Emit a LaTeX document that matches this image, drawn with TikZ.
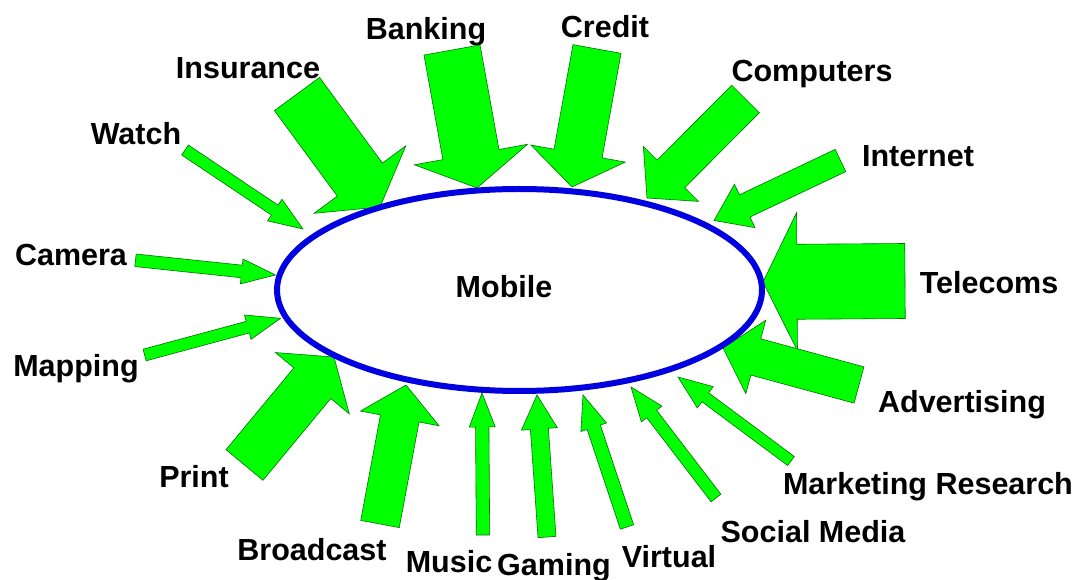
\documentclass[tikz,border=0pt]{standalone}
\usepackage{fontspec}
\setmainfont{Liberation Sans}
\usetikzlibrary{calc,shapes.geometric}

\definecolor{feedgreen}{RGB}{0,255,0}
\definecolor{ringblue}{RGB}{0,0,225}
\tikzset{
  feed/.style={fill=feedgreen,draw=black!55!green,line width=0.6pt,line join=miter},
  topic/.style={anchor=base,inner sep=0pt,font=\fontsize{30.5}{36}\selectfont\bfseries},
}
% block arrow: tail, tip, shaft half width, head half width
\newcommand{\blockarrow}[4]{%
  \coordinate (hb) at ($(#2)!34pt!(#1)$);
  \filldraw[feed] ($(#1)!#3pt!90:(#2)$) -- ($(hb)!#3pt!90:(#2)$) -- ($(hb)!#4pt!90:(#2)$)
    -- (#2) -- ($(hb)!#4pt!-90:(#2)$) -- ($(hb)!#3pt!-90:(#2)$) -- ($(#1)!#3pt!-90:(#2)$) -- cycle;}

\begin{document}
\begin{tikzpicture}[x=1pt,y=-1pt]
\useasboundingbox (0,0) rectangle (1080,580);

% labels
\node[topic] (banking) at (426,40) {Banking};
\node[topic] (credit) at (605,38) {Credit};
\node[topic] (insurance) at (248,79) {Insurance};
\node[topic] (computers) at (812,82) {Computers};
\node[topic] (watch) at (136,145) {Watch};
\node[topic] (internet) at (918,167) {Internet};
\node[topic] (camera) at (71,266) {Camera};
\node[topic] (telecoms) at (989,294) {Telecoms};
\node[topic] (mapping) at (76,377) {Mapping};
\node[topic] (advertising) at (962,412) {Advertising};
\node[topic] (print) at (194,487) {Print};
\node[topic] (marketing) at (928,494) {Marketing Research};
\node[topic] (social) at (813,542) {Social Media};
\node[topic] (broadcast) at (312,560) {Broadcast};
\node[topic] (music) at (449,572) {Music};
\node[topic] (gaming) at (554,575) {Gaming};
\node[topic] (virtual) at (669,567) {Virtual};

% arrow tails and tips
\coordinate (watch-t) at (185,150);        \coordinate (watch-h) at (303,229);
\coordinate (insurance-t) at (297,94);     \coordinate (insurance-h) at (380,207);
\coordinate (banking-t) at (452,50);       \coordinate (banking-h) at (477,188);
\coordinate (credit-t) at (597,49);        \coordinate (credit-h) at (572,187);
\coordinate (computers-t) at (745.5,99);   \coordinate (computers-h) at (647,198);
\coordinate (internet-t) at (840.5,160.5); \coordinate (internet-h) at (714,220.5);
\coordinate (telecoms-t) at (905,281);     \coordinate (telecoms-h) at (763,282);
\coordinate (advertising-t) at (859,385);  \coordinate (advertising-h) at (723,348);
\coordinate (marketing-t) at (791,461);    \coordinate (marketing-h) at (678,377);
\coordinate (social-t) at (716,498);       \coordinate (social-h) at (631,387);
\coordinate (virtual-t) at (627,527);      \coordinate (virtual-h) at (583,395);
\coordinate (gaming-t) at (547,537);       \coordinate (gaming-h) at (537,395);
\coordinate (music-t) at (483,535);        \coordinate (music-h) at (482,393);
\coordinate (broadcast-t) at (380,524);    \coordinate (broadcast-h) at (406,385);
\coordinate (print-t) at (244.5,465);      \coordinate (print-h) at (334,357);
\coordinate (mapping-t) at (144.6,355);    \coordinate (mapping-h) at (280.6,318.3);
\coordinate (camera-t) at (135.5,260.3);   \coordinate (camera-h) at (275.5,275);

\foreach \n/\s/\h in {watch/6/13, insurance/28/57, banking/28.5/57.5, credit/24.4/48,
    computers/19.5/39, internet/12.3/24, telecoms/37.5/69, advertising/18.8/38,
    marketing/5.6/13.3, social/6.2/13, virtual/7/13.5, gaming/9/18, music/6.7/13,
    broadcast/19.6/40, print/24/48, mapping/6/12.6, camera/6.3/12.5}
  \blockarrow{\n-t}{\n-h}{\s}{\h};

% the ring
\node[ellipse,draw=ringblue,line width=6pt,inner sep=0pt,minimum width=485pt,minimum height=202pt] (mobile) at (519.5,290) {};
\node[topic] (mobiletext) at (504,298) {Mobile};
\end{tikzpicture}
\end{document}
